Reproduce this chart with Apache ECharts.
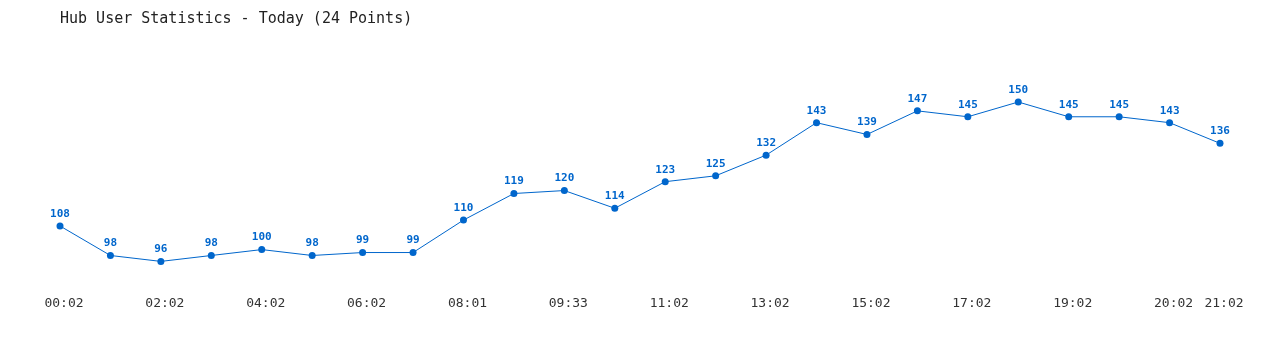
<!DOCTYPE html>
<html><head><meta charset="utf-8">
<script src="https://cdn.jsdelivr.net/npm/echarts@6/dist/echarts.min.js"></script>
<style>html,body{margin:0;padding:0;background:#fff}#c{width:1280px;height:350px}</style>
</head><body><div id="c"></div>
<script>
const titleText = 'Hub User Statistics - Today (24 Points)';
const categories = ['00:02','','02:02','','04:02','','06:02','','08:01','','09:33','','11:02','','13:02','','15:02','','17:02','','19:02','','20:02','21:02'];
const users = [108,98,96,98,100,98,99,99,110,119,120,114,123,125,132,143,139,147,145,150,145,145,143,136];

const chart = echarts.init(document.getElementById('c'));
chart.setOption({
  animation: false,
  backgroundColor: '#fff',
  title: {
    text: titleText, left: 55, top: 7,
    textStyle: {fontFamily: 'DejaVu Sans Mono', fontSize: 15, fontWeight: 'normal', color: '#222'}
  },
  grid: {left: 60, right: 60, top: 72.5, bottom: 70.9},
  xAxis: {
    type: 'category', data: categories, boundaryGap: false,
    axisLine: {show: false}, axisTick: {show: false}, splitLine: {show: false},
    axisLabel: {interval: 0, margin: 18, padding: [0, 0, 0, 8], fontFamily: 'DejaVu Sans Mono', fontSize: 13, color: '#333'}
  },
  yAxis: {
    type: 'value', min: 90, max: 160, show: false
  },
  series: [{
    type: 'line', data: users,
    symbol: 'circle', symbolSize: 7,
    lineStyle: {color: '#0066cc', width: 1},
    itemStyle: {color: '#0066cc'},
    label: {show: true, position: 'top', distance: 3, color: '#0066cc',
      fontFamily: 'DejaVu Sans Mono', fontSize: 11, fontWeight: 'bold'}
  }]
});
</script></body></html>
